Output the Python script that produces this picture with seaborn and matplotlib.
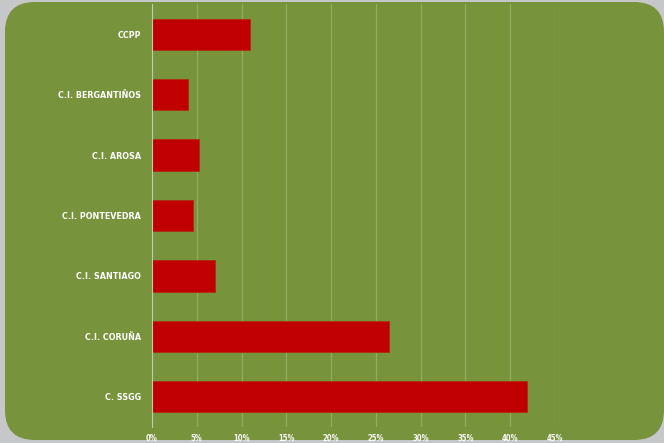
import matplotlib
matplotlib.use("Agg")
import matplotlib.pyplot as plt
import seaborn as sns
import pandas as pd
from matplotlib.patches import FancyBboxPatch
from matplotlib.ticker import FuncFormatter, MultipleLocator

# data (shares)
centros = ["CCPP", "C.I. BERGANTIÑOS", "C.I. AROSA", "C.I. PONTEVEDRA",
           "C.I. SANTIAGO", "C.I. CORUÑA", "C. SSGG"]
porcentaje = [0.109, 0.040, 0.053, 0.046, 0.070, 0.265, 0.419]

df = pd.DataFrame({"centro": centros, "pct": porcentaje})

sns.set_style("white")
plt.rcParams["font.family"] = ["DejaVu Sans"]

green = "#77933c"
fig = plt.figure(figsize=(6.64, 4.43), dpi=100)
fig.patch.set_facecolor("#c6c7c9")

# rounded green panel
W, H = 664, 443
panel = FancyBboxPatch((5 / W, 3 / H), 659 / W, 438 / H,
                       boxstyle="round,pad=0,rounding_size=0.045",
                       transform=fig.transFigure, facecolor=green,
                       edgecolor="none", zorder=-5, mutation_aspect=W / H)
fig.patches.append(panel)

ax = fig.add_axes([152 / W, 1 - 427 / H, (555 - 152) / W, 423 / H])
ax.set_facecolor("none")
ax.set_zorder(2)

sns.barplot(data=df, x="pct", y="centro", color="#c00000", width=0.52,
            edgecolor="#b02a10", linewidth=0.6, saturation=1, ax=ax)

ax.set_xlim(0, 0.45)
ax.xaxis.set_major_locator(MultipleLocator(0.05))
ax.xaxis.set_major_formatter(FuncFormatter(lambda v, p: f"{v*100:.0f}%"))
ax.grid(axis="x", color="#92ad62", linewidth=0.9)
ax.set_axisbelow(True)
for s in ["top", "right", "bottom"]:
    ax.spines[s].set_visible(False)
ax.spines["left"].set_color("#b9cdbf")
ax.spines["left"].set_linewidth(0.8)

ax.set_xlabel("")
ax.set_ylabel("")
ax.tick_params(axis="x", length=0, pad=5, colors="white", labelsize=5.5)
ax.tick_params(axis="y", length=0, pad=8, colors="white", labelsize=5.8)
for lbl in ax.get_xticklabels():
    lbl.set_fontweight("bold")
    lbl.set_fontstretch("condensed")
for lbl in ax.get_yticklabels():
    lbl.set_fontweight("bold")

fig.savefig("out.png", dpi=100, facecolor=fig.get_facecolor())
